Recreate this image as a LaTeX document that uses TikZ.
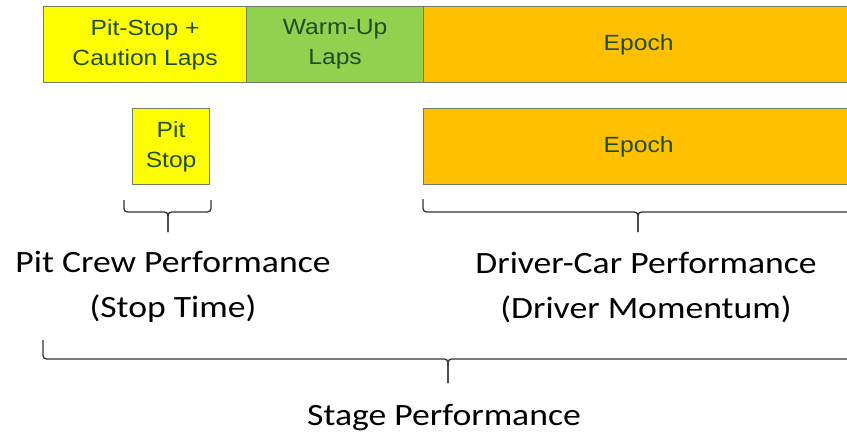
\documentclass[tikz,border=0pt]{standalone}
\usepackage{fontspec}
\setmainfont{Carlito}[FakeStretch=1.15]
\newfontfamily\boxfont{Liberation Sans}[FakeStretch=1.12]
\definecolor{segyellow}{HTML}{FFFF00}
\definecolor{seggreen}{HTML}{92D050}
\definecolor{segorange}{HTML}{FFC000}
\definecolor{segedge}{HTML}{6E7F62}
\definecolor{segtext}{HTML}{1F4E24}
\definecolor{bracecol}{HTML}{333333}
\begin{document}
\begin{tikzpicture}[x=1pt,y=-1pt,
  seg/.style={draw=segedge, line width=1.2pt, rectangle, inner sep=0pt,
    anchor=north west, minimum height=76pt, text=segtext, align=center,
    font=\boxfont\fontsize{22}{30}\selectfont},
  lbl/.style={align=center, text=black, inner sep=0pt,
    font=\fontsize{31}{45}\selectfont},
  bracepath/.style={draw=bracecol, line width=1.3pt, rounded corners=3.5pt}
]
\useasboundingbox (0,0) rectangle (847,439);

% top timeline bar
\node[seg, fill=segyellow, minimum width=203pt] (caution) at (43,6) {Pit-Stop +\\Caution Laps};
\node[seg, fill=seggreen, minimum width=177pt] (warmup) at (246,6) {Warm-Up\\Laps};
\node[seg, fill=segorange, minimum width=430pt] (epochtop) at (423,6) {Epoch};

% second row
\node[seg, fill=segyellow, minimum width=77pt] (pitstop) at (132,108) {Pit\\Stop};
\node[seg, fill=segorange, minimum width=430pt] (epochlow) at (423,108) {Epoch};

% brace under the pit stop
\coordinate (pbL) at (124,200);
\coordinate (pbR) at (211,200);
\coordinate (pbT) at (168,232);
\draw[bracepath] (pbL) -- (pbL |- 0,212) -- (pbT |- 0,212) -- (pbT);
\draw[bracepath] (pbT) -- (pbT |- 0,212) -- (pbR |- 0,212) -- (pbR);

% brace under the epoch
\coordinate (ebL) at (423,199);
\coordinate (ebR) at (853,199);
\coordinate (ebT) at (638,232);
\draw[bracepath] (ebL) -- (ebL |- 0,212) -- (ebT |- 0,212) -- (ebT);
\draw[bracepath] (ebT) -- (ebT |- 0,212) -- (ebR |- 0,212) -- (ebR);

% labels
\node[lbl] (pitcrew) at (173,287) {Pit Crew Performance\\(Stop Time)};
\node[lbl] (drivercar) at (646,287) {Driver-Car Performance\\(Driver Momentum)};

% brace over the whole stage
\coordinate (sbL) at (43,340);
\coordinate (sbR) at (853,340);
\coordinate (sbT) at (448,383);
\draw[bracepath] (sbL) -- (sbL |- 0,359) -- (sbT |- 0,359) -- (sbT);
\draw[bracepath] (sbT) -- (sbT |- 0,359) -- (sbR |- 0,359) -- (sbR);

\node[lbl, anchor=base] (stage) at (444,425) {Stage Performance};
\end{tikzpicture}
\end{document}
